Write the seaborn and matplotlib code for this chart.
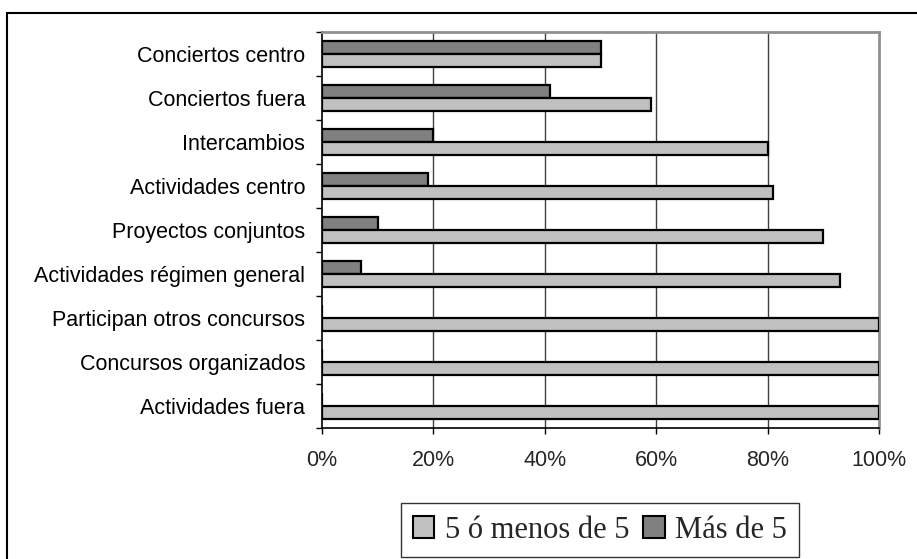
import pandas as pd
import matplotlib.pyplot as plt
import seaborn as sns
from matplotlib.patches import Patch, Rectangle
from matplotlib.ticker import FixedLocator, PercentFormatter

# Datos (porcentajes)
actividades = [
    "Conciertos centro",
    "Conciertos fuera",
    "Intercambios",
    "Actividades centro",
    "Proyectos conjuntos",
    "Actividades régimen general",
    "Participan otros concursos",
    "Concursos organizados",
    "Actividades fuera",
]
mas_de_5 = [50, 41, 20, 19, 10, 7, 0, 0, 0]
menos_de_5 = [50, 59, 80, 81, 90, 93, 100, 100, 100]

serie_menos = "5 ó menos de 5"
serie_mas = "Más de 5"
colores = {serie_menos: "#C0C0C0", serie_mas: "#808080"}

df = pd.concat([
    pd.DataFrame({"actividad": actividades, "serie": serie_mas, "valor": mas_de_5}),
    pd.DataFrame({"actividad": actividades, "serie": serie_menos, "valor": menos_de_5}),
])

sns.set_style("white")
plt.rcParams["font.family"] = ["Liberation Sans", "DejaVu Sans"]

fig = plt.figure(figsize=(9.17, 5.59), dpi=100)
ax = fig.add_axes([322 / 917, 1 - 428 / 559, (879 - 322) / 917, (428 - 32) / 559])

sns.barplot(data=df, y="actividad", x="valor", hue="serie",
            hue_order=[serie_mas, serie_menos], order=actividades,
            palette=colores, orient="h", width=0.6, dodge=True,
            errorbar=None, edgecolor="black", linewidth=1.6, ax=ax, zorder=3)

ax.set_xlim(0, 100)
ax.set_ylim(len(actividades) - 0.5, -0.5)
ax.set_xticks([0, 20, 40, 60, 80, 100])
ax.xaxis.set_major_formatter(PercentFormatter(decimals=0))
ax.set_xlabel("")
ax.set_ylabel("")

# rejilla vertical
for v in [20, 40, 60, 80]:
    ax.axvline(v, color="#404040", lw=1.0, zorder=1)

# ticks: etiquetas en el centro, marcas entre categorias
ax.tick_params(axis="y", which="major", length=0, pad=12, labelsize=15.5, colors="black")
ax.yaxis.set_minor_locator(FixedLocator([i - 0.5 for i in range(len(actividades) + 1)]))
ax.tick_params(axis="y", which="minor", left=True, length=4.5, width=1, color="black")
ax.tick_params(axis="x", which="major", bottom=True, length=4.5, width=1, color="black",
               pad=11.5, labelsize=15.5)

for lado in ["left", "bottom"]:
    ax.spines[lado].set_color("black")
    ax.spines[lado].set_linewidth(1.2)
for lado in ["top", "right"]:
    ax.spines[lado].set_color("#909090")
    ax.spines[lado].set_linewidth(2)
    ax.spines[lado].set_visible(True)

ax.legend_.remove()
handles = [Patch(facecolor=colores[serie_menos], edgecolor="black", lw=1.5, label=serie_menos),
           Patch(facecolor=colores[serie_mas], edgecolor="black", lw=1.5, label=serie_mas)]
leg = fig.legend(handles=handles, loc="center", bbox_to_anchor=(600 / 917, 1 - 530 / 559),
                 ncol=2, frameon=True, fancybox=False, handlelength=0.7, handleheight=0.7,
                 handletextpad=0.35, columnspacing=0.45, borderpad=0.4,
                 prop={"family": "Liberation Serif", "size": 22})
leg.get_frame().set_edgecolor("black")
leg.get_frame().set_linewidth(1.0)

# borde exterior del area del grafico
fig.patches.append(Rectangle((7 / 917, -0.02), 1.1, 1 - 13 / 559 + 0.02,
                             transform=fig.transFigure, fill=False,
                             edgecolor="black", lw=1.5))

fig.savefig("out.png", dpi=100)
